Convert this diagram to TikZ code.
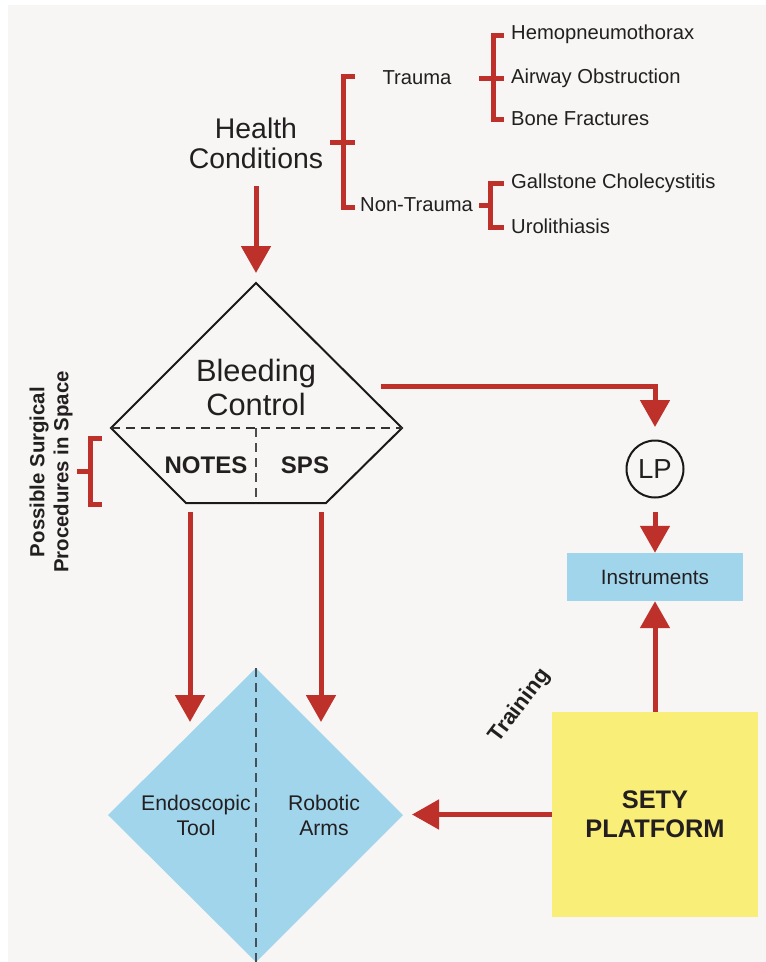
\documentclass[tikz,border=0pt]{standalone}
\usepackage{fontspec}
\setmainfont{Liberation Sans}
\usetikzlibrary{arrows.meta}
\definecolor{myred}{RGB}{190,48,42}
\definecolor{txt}{RGB}{35,31,32}
\definecolor{bg}{RGB}{247,246,244}
\definecolor{lblue}{RGB}{160,213,236}
\definecolor{lyellow}{RGB}{248,238,120}
\definecolor{dashgray}{RGB}{70,80,90}
\newcommand\myfs[2]{\fontsize{#1}{#2}\selectfont}
\tikzset{
  redarrow/.style={draw=myred, line width=5pt, line join=miter, -{Triangle[width=29pt,length=27pt]}},
  brk/.style={draw=myred, line width=5pt, line join=miter},
  lbl/.style={text=txt, inner sep=0pt, font=\myfs{20.2}{23}},
  leaf/.style={lbl, anchor=west},
}
\begin{document}
\begin{tikzpicture}[x=1pt,y=-1pt]
\useasboundingbox (0,0) rectangle (766,962);
\fill[white] (0,0) rectangle (766,962);
\fill[bg] (8,5) rectangle (766,962);

% ---------- top tree ----------
\node[text=txt, align=center, inner sep=0pt, font=\myfs{28.4}{30}] (hc) at (256,143) {Health\\Conditions};
\node[lbl] (trauma) at (417,78) {Trauma};
\node[leaf] (nontrauma) at (360,205) {Non-Trauma};
\node[leaf] (hemo) at (511,34) {Hemopneumothorax};
\node[leaf] (airway) at (511,78) {Airway Obstruction};
\node[leaf] (bone) at (511,119) {Bone Fractures};
\node[leaf] (gall) at (511,183) {Gallstone Cholecystitis};
\node[leaf] (uro) at (511,226) {Urolithiasis};

% brackets
\draw[brk] (355,76) -- (343,76) -- (343,207) -- (355,207);
\draw[brk] (330,142) -- (355,142);
\draw[brk] (504,35) -- (493,35) -- (493,119) -- (504,119);
\draw[brk] (479,78) -- (504,78);
\draw[brk] (504,183) -- (490,183) -- (490,227) -- (504,227);
\draw[brk] (479,205) -- (490,205);
\draw[brk] (102,438) -- (90,438) -- (90,504) -- (102,504);
\draw[brk] (77,471) -- (90,471);

% ---------- pentagon ----------
\coordinate (pTop) at (256,283);
\coordinate (pL) at (111,428);
\coordinate (pR) at (402,428);
\coordinate (pBL) at (186,503);
\coordinate (pBR) at (326,503);
\coordinate (pBM) at (256,503);
\coordinate (pM) at (256,428);
\draw[line width=2pt, line join=miter, draw=black!90] (pTop) -- (pR) -- (pBR) -- (pBL) -- (pL) -- cycle;
\draw[line width=1.3pt, dash pattern=on 9pt off 6pt, draw=black!80] (pL) -- (pR);
\draw[line width=1.3pt, dash pattern=on 9pt off 6pt, draw=black!70] (pM) -- (pBM);
\node[text=txt, align=center, inner sep=0pt, font=\myfs{30.8}{34}] (bleed) at (256,387) {Bleeding\\Control};
\node[text=txt, inner sep=0pt, font=\myfs{24}{28}\bfseries] (notes) at (206,465) {NOTES};
\node[text=txt, inner sep=0pt, font=\myfs{24}{28}\bfseries] (sps) at (305,465) {SPS};

\node[text=txt, align=center, inner sep=0pt, rotate=90, font=\myfs{20.4}{24}\bfseries] (possible) at (51,472) {Possible Surgical\\Procedures in Space};

% ---------- right column ----------
\node[draw=black!90, line width=2pt, circle, minimum size=57pt, inner sep=0pt, text=txt, font=\myfs{27.5}{30}] (lp) at (655,469) {LP};
\node[fill=lblue, minimum width=176pt, minimum height=48pt, inner sep=0pt, text=txt, font=\myfs{20.7}{24}] (instr) at (655,577) {Instruments};
\node[fill=lyellow, minimum width=206pt, minimum height=205pt, inner sep=0pt, align=center, text=txt, font=\myfs{25.4}{29}\bfseries] (sety) at (655,814.5) {SETY\\PLATFORM};

% ---------- diamond ----------
\coordinate (dTop) at (256,668);
\coordinate (dR) at (403,815);
\coordinate (dB) at (256,962);
\coordinate (dL) at (108,815);
\fill[lblue] (dTop) -- (dR) -- (dB) -- (dL) -- cycle;
\draw[line width=1.3pt, dash pattern=on 9pt off 6pt, draw=dashgray] (dTop) -- (dB);
\node[text=txt, align=center, inner sep=0pt, font=\myfs{21.2}{25}] (endo) at (196,815) {Endoscopic\\Tool};
\node[text=txt, align=center, inner sep=0pt, font=\myfs{21.2}{25}] (robo) at (324,815) {Robotic\\Arms};

\node[text=txt, inner sep=0pt, rotate=53, font=\myfs{22}{26}\bfseries] (training) at (520,706) {Training};

% ---------- arrows ----------
\coordinate (hcOut) at (256,186);
\coordinate (pTopIn) at (256,273);
\draw[redarrow] (hcOut) -- (pTopIn);

\coordinate (bleedOut) at (381,386);
\coordinate (lpIn) at (655,427);
\draw[redarrow] (bleedOut) -| (lpIn);

\coordinate (lpOut) at (655,512);
\draw[redarrow] (lpOut) -- (instr.north);

\draw[redarrow] (sety.north) -- (instr.south);

\coordinate (setyL) at (sety.west);
\coordinate (dRIn) at (412,814.5);
\draw[redarrow] (setyL) -- (dRIn);

\coordinate (notesOut) at (190,512);
\coordinate (endoIn) at (190,722);
\draw[redarrow] (notesOut) -- (endoIn);
\coordinate (spsOut) at (321,512);
\coordinate (roboIn) at (321,722);
\draw[redarrow] (spsOut) -- (roboIn);
\end{tikzpicture}
\end{document}
